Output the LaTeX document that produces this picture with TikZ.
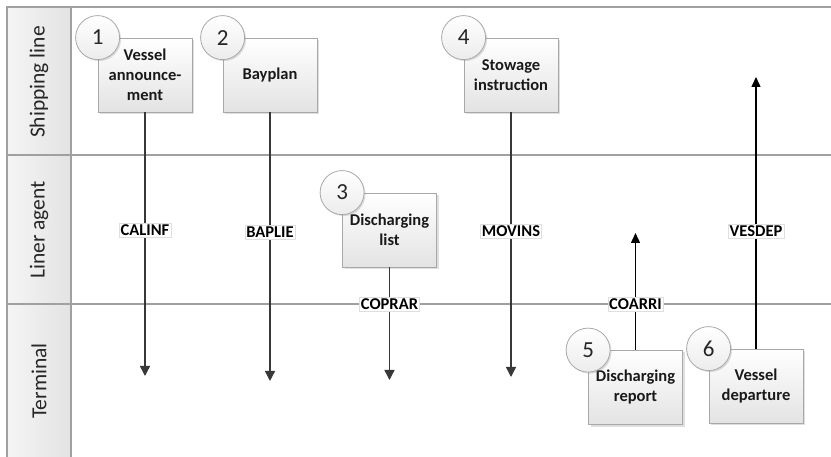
\documentclass[tikz,border=0pt]{standalone}
\usepackage{fontspec}
\setmainfont{Carlito}
\usetikzlibrary{shadows,arrows.meta}
\definecolor{laneln}{HTML}{A0A0A0}
\definecolor{boxln}{HTML}{A8A8A8}
\definecolor{arrcol}{HTML}{383838}
\tikzset{
  laneline/.style={draw=laneln, line width=1.6pt},
  hdrfill/.style={left color=gray!8, right color=gray!22, draw=laneln, line width=1.6pt},
  hdrtext/.style={rotate=90, font=\fontsize{21.5}{24}\selectfont, text=black!85},
  stepbox/.style={draw=boxln, line width=0.8pt, top color=white, bottom color=gray!22,
    minimum width=94pt, minimum height=74pt, align=center, inner sep=2pt,
    font=\fontsize{16.5}{20}\selectfont\bfseries, text=black!90,
    drop shadow={shadow xshift=2pt, shadow yshift=-2pt, opacity=0.25}},
  numcirc/.style={circle, draw=boxln, line width=0.8pt, top color=white, bottom color=gray!15,
    minimum size=44pt, inner sep=0pt, font=\fontsize{23}{25}\selectfont, text=black!85,
    drop shadow={shadow xshift=1.5pt, shadow yshift=-1.5pt, opacity=0.25}},
  msglbl/.style={fill=white, draw=gray!25, line width=0.4pt, inner sep=1.5pt,
    font=\fontsize{16.5}{18}\selectfont\bfseries, text=black},
  arr/.style={draw=arrcol, line width=1.4pt, -{Triangle[length=10pt,width=10pt]}},
  arrup/.style={draw=black, line width=1.4pt, -{Triangle[length=10pt,width=9pt]}},
}
\begin{document}
\begin{tikzpicture}[x=1pt,y=-1pt]
\useasboundingbox (0,0) rectangle (831,457);
% lane headers
\path[hdrfill] (7,7) rectangle (71,155);
\path[hdrfill] (7,155) rectangle (71,304);
\path[hdrfill] (7,304) rectangle (71,460);
\node[hdrtext] (h1) at (39,82) {Shipping line};
\node[hdrtext] (h2) at (39,230) {Liner agent};
\node[hdrtext] (h3) at (39,381) {Terminal};
% lane lines
\draw[laneline] (71,7) -- (831,7);
\draw[laneline] (71,155) -- (831,155);
\draw[laneline] (71,304) -- (831,304);
% end points
\coordinate (t1) at (145,376);
\coordinate (t2) at (270,381);
\coordinate (t3) at (389.5,380);
\coordinate (t4) at (511,377);
\coordinate (t5) at (635.5,233);
\coordinate (t6) at (756,77);
% boxes
\node[stepbox] (b1) at (145,75) {Vessel\\announce-\\ment};
\node[stepbox] (b2) at (270,75) {Bayplan};
\node[stepbox] (b4) at (511,75) {Stowage\\instruction};
\node[stepbox] (b3) at (389.5,230) {Discharging\\list};
\node[stepbox] (b5) at (635.5,387.5) {Discharging\\report};
\node[stepbox] (b6) at (756,386) {Vessel\\departure};
% arrows
\draw[arr] (b1.south) -- (t1);
\draw[arr] (b2.south) -- (t2);
\draw[arr] (b3.south) -- (t3);
\draw[arr] (b4.south) -- (t4);
\draw[arrup] (b5.north) -- (t5);
\draw[arrup] (b6.north) -- (t6);
% labels
\node[msglbl] (l1) at (145,230) {CALINF};
\node[msglbl] (l2) at (270,232) {BAPLIE};
\node[msglbl] (l3) at (389.5,304) {COPRAR};
\node[msglbl] (l4) at (511,231) {MOVINS};
\node[msglbl] (l5) at (635.5,304) {COARRI};
\node[msglbl] (l6) at (756,231) {VESDEP};
% number circles
\node[numcirc] (c1) at (b1.north west) {1};
\node[numcirc] (c2) at (b2.north west) {2};
\node[numcirc] (c3) at (b3.north west) {3};
\node[numcirc] (c4) at (b4.north west) {4};
\node[numcirc] (c5) at (b5.north west) {5};
\node[numcirc] (c6) at (b6.north west) {6};
\end{tikzpicture}
\end{document}
